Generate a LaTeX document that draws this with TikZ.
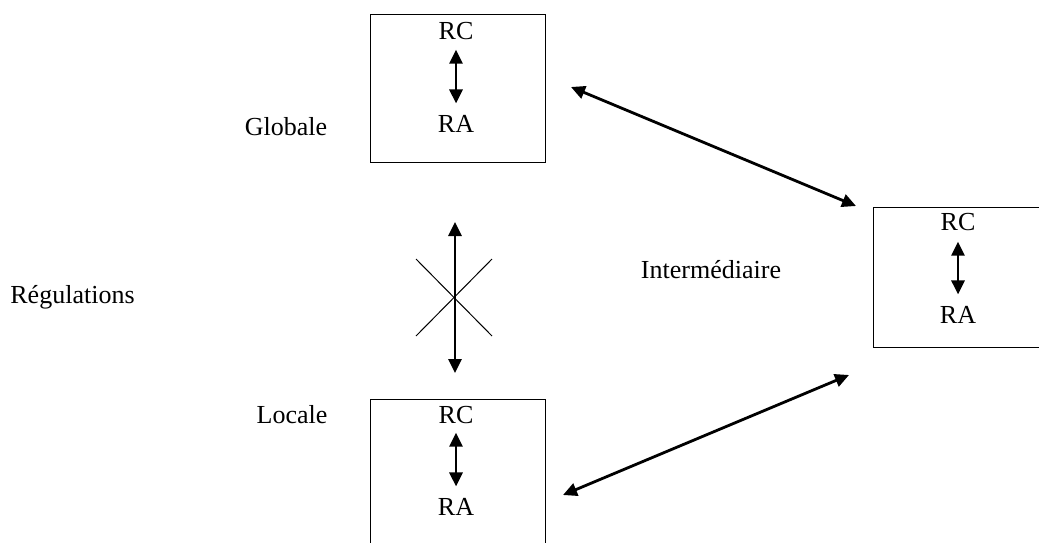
\documentclass[tikz,border=0pt]{standalone}
\usepackage{fontspec}
\setmainfont{Liberation Serif}
\usetikzlibrary{arrows.meta}
\tikzset{
    box/.style={draw, line width=0.5pt, minimum width=87.5pt, minimum height=74pt, inner sep=0pt},
    lbl/.style={inner sep=0pt, anchor=base, font=\fontsize{13}{15}\selectfont},
    dbl/.style={{Triangle[length=7pt,width=6.5pt]}-{Triangle[length=7pt,width=6.5pt]}, line width=1.4pt},
    thin cross/.style={line width=0.5pt},
}
\begin{document}
\begin{tikzpicture}[x=0.5pt,y=-0.5pt]
    \useasboundingbox (0,0) rectangle (1039,542);
    \clip (0,0) rectangle (1039,542);
    % boxes
    \node[box] (glob) at (457.5,88) {};
    \node[box, minimum height=81pt] (loc) at (457.5,480) {};
    \node[box, minimum height=70pt] (inter) at (960.5,277) {};
    % RC / RA in each box
    \node[lbl] (rcg) at (456,39) {RC};
    \node[lbl] (rag) at (456,132) {RA};
    \node[lbl] (rcl) at (456,423) {RC};
    \node[lbl] (ral) at (456,515) {RA};
    \node[lbl] (rci) at (958,230) {RC};
    \node[lbl] (rai) at (958,323) {RA};
    \draw[dbl, shorten <=5pt, shorten >=5.5pt] (rcg.south) -- (rag.north);
    \draw[dbl, shorten <=4.5pt, shorten >=5.5pt] (rcl.south) -- (ral.north);
    \draw[dbl, shorten <=5.5pt, shorten >=5.5pt] (rci.south) -- (rai.north);
    % side labels
    \node[lbl] (glabel) at (286,135) {Globale};
    \node[lbl] (llabel) at (292,423) {Locale};
    \node[lbl] (rlabel) at (72.5,303) {Régulations};
    \node[lbl] (ilabel) at (711,278) {Intermédiaire};
    % crossed arrow between globale and locale
    \coordinate (up) at (455,222);
    \coordinate (down) at (455,373);
    \draw[dbl] (up) -- (down);
    \draw[thin cross] (416,259) -- (492,336);
    \draw[thin cross] (416,336) -- (492,259);
    % links to the intermediate level
    \coordinate (g1) at (571,87);
    \coordinate (i1) at (856,206);
    \coordinate (l1) at (563,495);
    \coordinate (i2) at (849,375);
    \draw[dbl] (g1) -- (i1);
    \draw[dbl] (l1) -- (i2);
\end{tikzpicture}
\end{document}
